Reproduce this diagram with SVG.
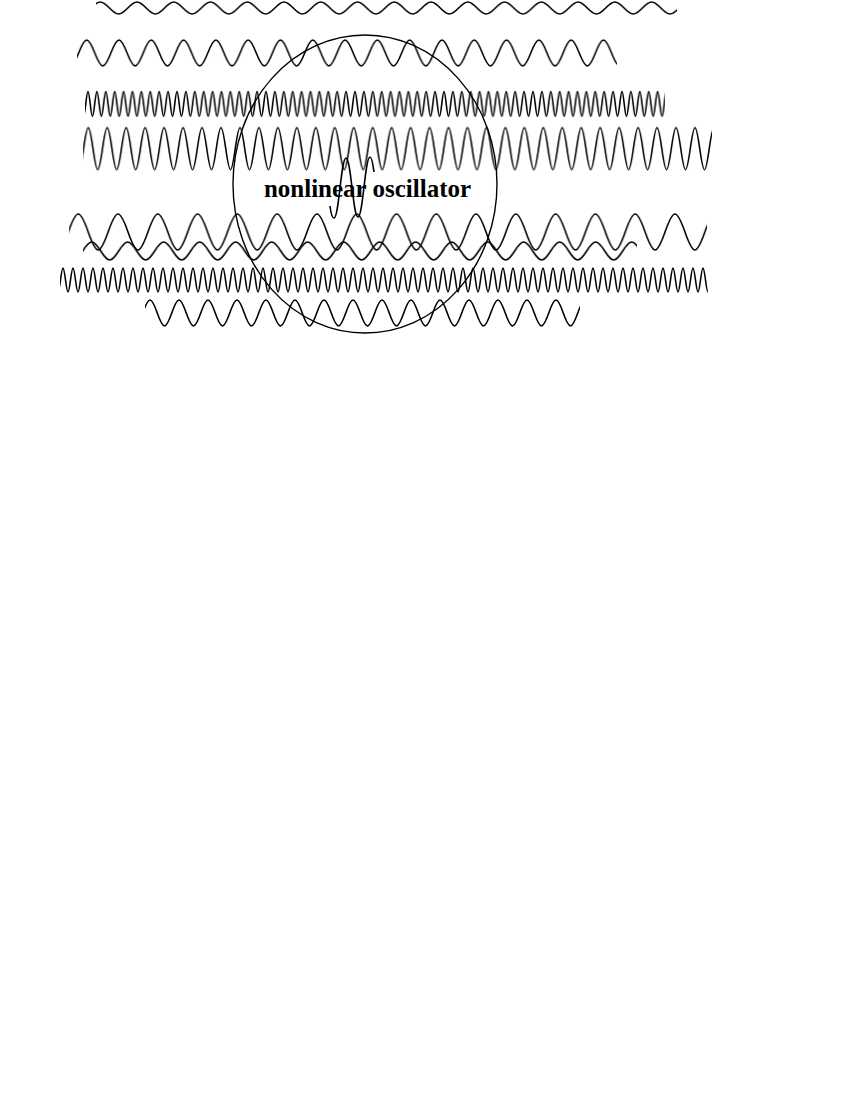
<svg xmlns="http://www.w3.org/2000/svg" width="850" height="1100" viewBox="0 0 850 1100">
<style>
.w{fill:none;stroke:#000;stroke-width:1.6}
.o{fill:none;stroke:#000;stroke-width:1.4}
.lbl{font-family:"Liberation Serif","Times New Roman",serif;font-weight:bold;font-size:25px;fill:#000}
</style>
<defs>
<pattern id="p1" patternUnits="userSpaceOnUse" x="137" y="0" width="36.76" height="16"><path class="w" d="M-27.57,8 c7.8,8 10.58,8 18.38,0 s10.58,-8 18.38,0 s10.58,8 18.38,0 s10.58,-8 18.38,0"/></pattern>
<pattern id="p2" patternUnits="userSpaceOnUse" x="86.7" y="38" width="32.3" height="30"><path class="w" d="M-24.23,15 c6.85,17.33 9.3,17.33 16.15,0 s9.3,-17.33 16.15,0 s9.3,17.33 16.15,0 s9.3,-17.33 16.15,0"/></pattern>
<pattern id="p3" patternUnits="userSpaceOnUse" x="88" y="90" width="8.9" height="28"><path class="w" d="M-6.68,14 c1.89,16.67 2.56,16.67 4.45,0 s2.56,-16.67 4.45,0 s2.56,16.67 4.45,0 s2.56,-16.67 4.45,0"/></pattern>
<pattern id="p4" patternUnits="userSpaceOnUse" x="88.3" y="125.7" width="18.96" height="46"><path class="w" d="M-14.22,23 c4.02,28 5.46,28 9.48,0 s5.46,-28 9.48,0 s5.46,28 9.48,0 s5.46,-28 9.48,0"/></pattern>
<pattern id="p5" patternUnits="userSpaceOnUse" x="78.3" y="212" width="39.78" height="40"><path class="w" d="M-29.84,20 c8.44,24 11.45,24 19.89,0 s11.45,-24 19.89,0 s11.45,24 19.89,0 s11.45,-24 19.89,0"/></pattern>
<pattern id="p6" patternUnits="userSpaceOnUse" x="91.7" y="240" width="36" height="22"><path class="w" d="M-27,11 c7.64,12 10.36,12 18,0 s10.36,-12 18,0 s10.36,12 18,0 s10.36,-12 18,0"/></pattern>
<pattern id="p7" patternUnits="userSpaceOnUse" x="63" y="266" width="10" height="28"><path class="w" d="M-7.5,14 c2.12,16 2.88,16 5,0 s2.88,-16 5,0 s2.88,16 5,0 s2.88,-16 5,0"/></pattern>
<pattern id="p8" patternUnits="userSpaceOnUse" x="150" y="298" width="29" height="30"><path class="w" d="M-21.75,15 c6.15,17.33 8.35,17.33 14.5,0 s8.35,-17.33 14.5,0 s8.35,17.33 14.5,0 s8.35,-17.33 14.5,0"/></pattern>
</defs>
<g id="oscillator">
<ellipse class="o" cx="365" cy="184" rx="132" ry="149"/>
<text class="lbl" x="367.5" y="197" text-anchor="middle">nonlinear oscillator</text>
</g>
<g id="waves">
<rect id="wave1" x="96" y="0" width="581" height="16" fill="url(#p1)"/>
<rect id="wave2" x="77" y="38" width="540" height="30" fill="url(#p2)"/>
<rect id="wave3" x="85" y="90" width="580" height="28" fill="url(#p3)"/>
<rect id="wave4" x="83" y="125.7" width="629" height="46" fill="url(#p4)"/>
<rect id="wave5" x="69" y="212" width="638" height="40" fill="url(#p5)"/>
<rect id="wave6" x="83" y="240" width="554" height="22" fill="url(#p6)"/>
<rect id="wave7" x="60" y="266" width="648" height="28" fill="url(#p7)"/>
<rect id="wave8" x="145" y="298" width="435" height="30" fill="url(#p8)"/>
<path id="squiggle" class="w" d="M330,206 C331,214 332,218 334,218 C339,218 341,158 346,158 C351,158 353,217 358,217 C363,217 365,157 370,157 C372,157 373,165 374,172"/>
</g>
</svg>
